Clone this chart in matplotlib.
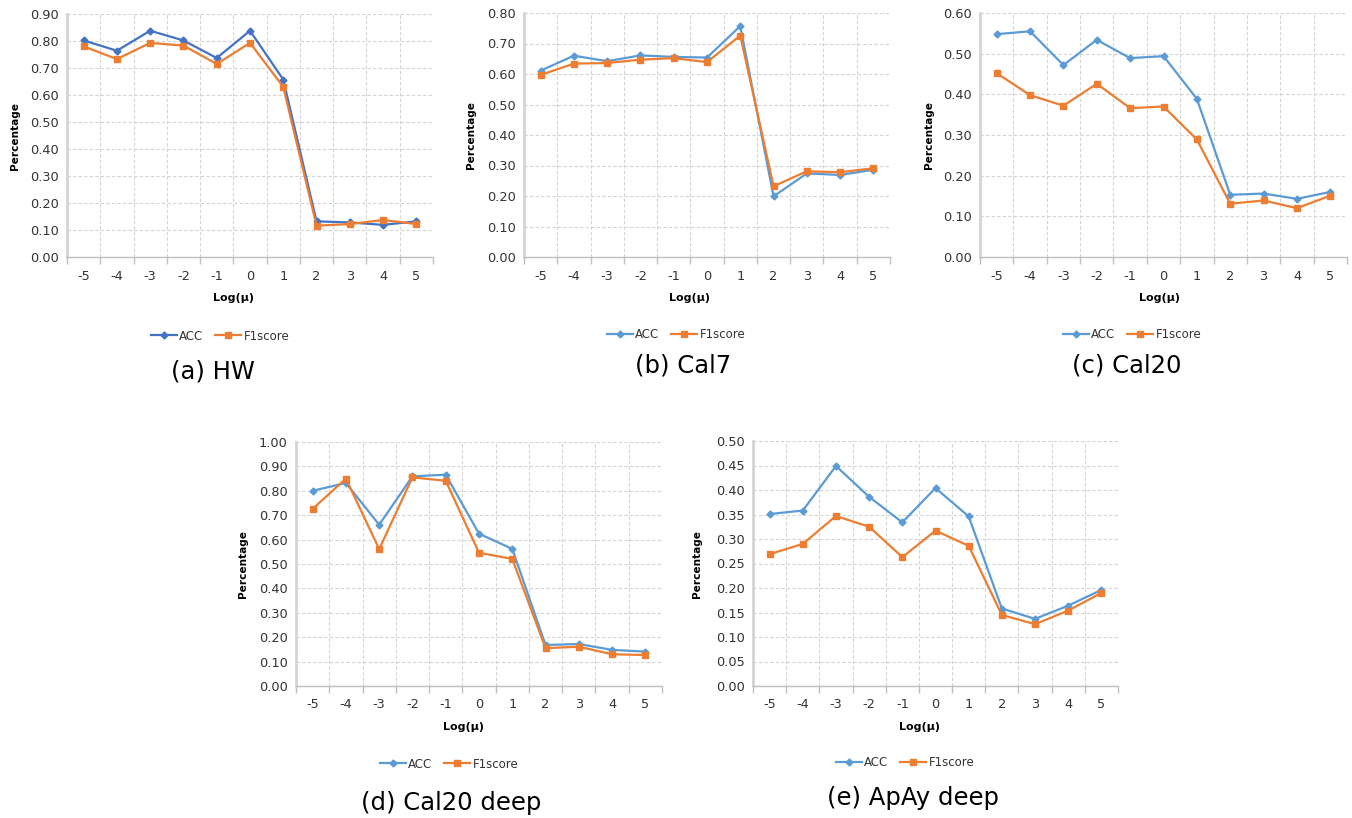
# mu_sensitivity.py
# ACC / F1score vs Log(mu) for five datasets, Excel-style line charts
import numpy as np
import matplotlib.pyplot as plt
from matplotlib.ticker import FixedLocator, NullFormatter, FixedFormatter

# =======================
# DATA
# =======================
LOG_MU = [-5, -4, -3, -2, -1, 0, 1, 2, 3, 4, 5]
TICK_LABELS = [str(v) for v in LOG_MU]

HW_ACC = [0.802, 0.764, 0.838, 0.802, 0.737, 0.838, 0.657, 0.132, 0.128, 0.119, 0.132]
HW_F1 = [0.780, 0.733, 0.793, 0.783, 0.715, 0.793, 0.630, 0.116, 0.122, 0.137, 0.122]

CAL7_ACC = [0.611, 0.660, 0.642, 0.661, 0.656, 0.654, 0.757, 0.199, 0.274, 0.269, 0.286]
CAL7_F1 = [0.597, 0.634, 0.636, 0.647, 0.652, 0.639, 0.726, 0.232, 0.281, 0.278, 0.291]

CAL20_ACC = [0.548, 0.555, 0.472, 0.534, 0.489, 0.494, 0.389, 0.153, 0.156, 0.143, 0.160]
CAL20_F1 = [0.452, 0.398, 0.372, 0.426, 0.366, 0.370, 0.289, 0.131, 0.139, 0.120, 0.151]

CAL20D_ACC = [0.800, 0.832, 0.661, 0.859, 0.866, 0.624, 0.562, 0.168, 0.172, 0.148, 0.141]
CAL20D_F1 = [0.726, 0.850, 0.561, 0.855, 0.841, 0.546, 0.521, 0.155, 0.161, 0.130, 0.127]

APAY_ACC = [0.351, 0.358, 0.449, 0.386, 0.334, 0.404, 0.346, 0.158, 0.137, 0.164, 0.196]
APAY_F1 = [0.269, 0.290, 0.347, 0.325, 0.263, 0.317, 0.286, 0.145, 0.126, 0.154, 0.190]

TITLES = ["(a) HW", "(b) Cal7", "(c) Cal20", "(d) Cal20 deep", "(e) ApAy deep"]

# =======================
# LAYOUT (pixels of a 1352x818 canvas)
# =======================
W, H = 1352, 818
BLUE_DARK = "#4472C4"
BLUE = "#5B9BD5"
ORANGE = "#ED7D31"
GRID = "#D4D4D4"
TEXT = "#333333"

# left, top, right, bottom of plot area; ymax, ystep; legend/title/xlabel/ylabel centres
PANELS = [
    dict(acc=HW_ACC, f1=HW_F1, box=(67, 14, 433, 257), ymax=0.90, step=0.10,
         acc_color=BLUE_DARK, leg=(220, 336), title=(213, 372), xl=(233, 298), yl=15),
    dict(acc=CAL7_ACC, f1=CAL7_F1, box=(524, 13, 890, 257), ymax=0.80, step=0.10,
         acc_color=BLUE, leg=(676, 335), title=(683, 366), xl=(690, 298), yl=471),
    dict(acc=CAL20_ACC, f1=CAL20_F1, box=(980, 13, 1347, 257), ymax=0.60, step=0.10,
         acc_color=BLUE, leg=(1132, 335), title=(1127, 365), xl=(1160, 298), yl=929),
    dict(acc=CAL20D_ACC, f1=CAL20D_F1, box=(296, 442, 662, 686), ymax=1.00, step=0.10,
         acc_color=BLUE, leg=(449, 764), title=(451, 803), xl=(463, 727), yl=243),
    dict(acc=APAY_ACC, f1=APAY_F1, box=(753, 441, 1118, 686), ymax=0.50, step=0.05,
         acc_color=BLUE, leg=(905, 763), title=(913, 798), xl=(920, 727), yl=697),
]

plt.rcParams['font.family'] = ['DejaVu Sans']

fig = plt.figure(figsize=(W / 100, H / 100), dpi=100)


def fx(px):
    return px / W


def fy(py):
    return 1 - py / H


for p, title in zip(PANELS, TITLES):
    l, t, r, b = p["box"]
    ax = fig.add_axes([fx(l), fy(b), fx(r - l), (b - t) / H])

    ax.plot(LOG_MU, p["acc"], color=p["acc_color"], lw=1.6, marker="D", ms=3.5,
            label="ACC", zorder=3)
    ax.plot(LOG_MU, p["f1"], color=ORANGE, lw=1.6, marker="s", ms=4.5,
            label="F1score", zorder=3)

    ax.set_xlim(-5.5, 5.5)
    ax.set_ylim(0, p["ymax"])
    yt = np.arange(0, p["ymax"] + 1e-9, p["step"])
    ax.set_yticks(yt)
    ax.set_yticklabels([f"{v:.2f}" for v in yt])

    # category boundaries carry the tick marks + vertical grid
    bounds = np.arange(-5.5, 5.6, 1.0)
    ax.xaxis.set_major_locator(FixedLocator(bounds))
    ax.xaxis.set_major_formatter(NullFormatter())
    ax.xaxis.set_minor_locator(FixedLocator(LOG_MU))
    ax.xaxis.set_minor_formatter(FixedFormatter(TICK_LABELS))
    ax.tick_params(axis="x", which="major", length=5, color="#BFBFBF", width=1)
    ax.tick_params(axis="x", which="minor", length=0, pad=9, labelsize=9.3, labelcolor=TEXT)
    ax.tick_params(axis="y", length=0, pad=6, labelsize=9.3, labelcolor=TEXT)

    ax.grid(True, which="major", color=GRID, ls=(0, (3, 2)), lw=0.8)
    ax.set_axisbelow(True)
    for s in ["top", "right"]:
        ax.spines[s].set_visible(False)
    ax.spines["left"].set_color(GRID)
    ax.spines["left"].set_linewidth(2)
    ax.spines["bottom"].set_color("#BFBFBF")
    ax.spines["bottom"].set_linewidth(1)

    fig.text(fx(p["yl"]), fy((t + b) / 2), "Percentage", rotation=90, ha="center",
             va="center", fontsize=7.6, fontweight="bold", color="black")
    fig.text(fx(p["xl"][0]), fy(p["xl"][1]), "Log(μ)", ha="center", va="center",
             fontsize=8, fontweight="bold", color="black")

    fig.legend(handles=ax.get_lines(), loc="center", ncol=2, frameon=False,
               bbox_to_anchor=(fx(p["leg"][0]), fy(p["leg"][1])), fontsize=8.5,
               handlelength=2.2, handletextpad=0.2, columnspacing=1.0,
               labelcolor=TEXT)
    fig.text(fx(p["title"][0]), fy(p["title"][1]), title, ha="center", va="center",
             fontsize=17.5, color="black")

fig.savefig("out.png", dpi=100)
